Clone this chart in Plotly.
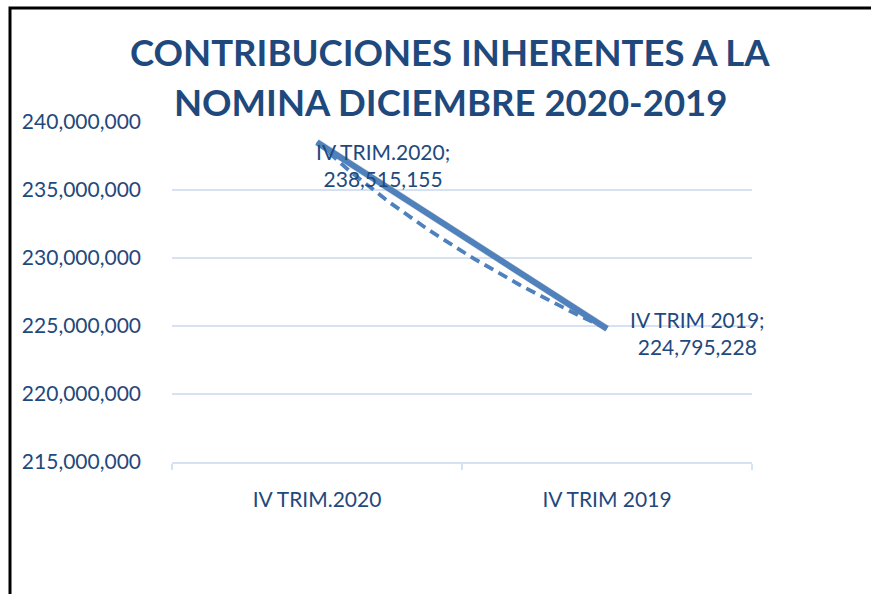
import numpy as np
import plotly.graph_objects as go

categories = ["IV TRIM.2020", "IV TRIM 2019"]
values = [238515155, 224795228]
label_prefixes = ["IV TRIM.2020;", "IV TRIM 2019;"]
y_ticks = [215000000, 220000000, 225000000, 230000000, 235000000, 240000000]
title_lines = ["CONTRIBUCIONES INHERENTES A LA", "NOMINA DICIEMBRE 2020-2019"]

TXT = "#1F497D"
LINE = "#4F81BD"
GRID = "#D6E2F2"
FONT = "Lato, 'Liberation Sans', sans-serif"

pos = list(range(len(categories)))

# logarithmic trendline (as Excel), fitted on x = 1..n
xn = np.arange(1, len(values) + 1)
b, a = np.polyfit(np.log(xn), np.array(values, dtype=float), 1)
t = np.linspace(1, len(values), 60)
trend_y = a + b * np.log(t)
trend_x = t - 1

W, H = 873, 594
L, R, T, B = 172, 118, 122, 128
pw, ph = W - L - R, H - T - B
ex, ey = 3 / pw, 4 / ph


def px(xp):
    return (xp - L) / pw


def py(yp):
    return (T + ph - yp) / ph


fig = go.Figure()
# base subplot holder (invisible) so the axes and grid are drawn
fig.add_trace(go.Scatter(x=pos, y=values, mode="lines", line=dict(width=0, color="rgba(0,0,0,0)"),
                         hoverinfo="skip", showlegend=False))
# shadow (offset subplot)
fig.add_trace(go.Scatter(x=pos, y=values, mode="lines", xaxis="x2", yaxis="y2",
                         line=dict(color="rgba(0,0,0,0.16)", width=7), hoverinfo="skip", showlegend=False))
fig.add_trace(go.Scatter(x=trend_x, y=trend_y, mode="lines", xaxis="x3", yaxis="y3",
                         line=dict(color=LINE, width=3.8, dash="10px,6px"), showlegend=False))
fig.add_trace(go.Scatter(x=pos, y=values, mode="lines", xaxis="x3", yaxis="y3",
                         line=dict(color=LINE, width=6), showlegend=False))

yr = [y_ticks[0], y_ticks[-1]]
xr = [-0.5, len(categories) - 0.5]

for i, (p, v) in enumerate(zip(pos, values)):
    fig.add_annotation(x=p, y=v, xref="x3", yref="y3",
                       text=f"{label_prefixes[i]}<br>{v:,}",
                       showarrow=False, xanchor="center", yanchor="middle",
                       xshift=[66, 90][i], yshift=[-23, -4][i],
                       font=dict(family=FONT, size=21, color=TXT))

for i, (line, ypix) in enumerate(zip(title_lines, [52, 102])):
    fig.add_annotation(x=px(450), y=py(ypix), xref="paper", yref="paper",
                       text=f"<b>{line}</b>", showarrow=False,
                       xanchor="center", yanchor="middle",
                       font=dict(family=FONT, size=36.5, color=TXT))

fig.update_layout(
    width=W, height=H,
    margin=dict(l=L, r=R, t=T, b=B, autoexpand=False),
    paper_bgcolor="white", plot_bgcolor="white",
    xaxis=dict(range=xr, domain=[0, 1 - ex], tickvals=pos, ticktext=categories,
               showgrid=False, zeroline=False, showline=True, linecolor=GRID, linewidth=2,
               ticks="", tickfont=dict(family=FONT, size=21, color=TXT),
               minor=dict(tickvals=[-0.5, 0.5, 1.5], ticks="outside", ticklen=6, tickcolor=GRID, tickwidth=2),
               ticklabelstandoff=18, automargin=False),
    yaxis=dict(range=yr, domain=[ey, 1], tickvals=y_ticks, tickformat=",d",
               showgrid=True, gridcolor=GRID, gridwidth=1.5, zeroline=False, showline=False,
               ticks="", tickfont=dict(family=FONT, size=21, color=TXT), ticklabelstandoff=30,
               automargin=False),
    xaxis2=dict(range=xr, domain=[ex, 1], overlaying="x", visible=False),
    yaxis2=dict(range=yr, domain=[0, 1 - ey], overlaying="y", visible=False),
    xaxis3=dict(range=xr, domain=[0, 1 - ex], overlaying="x", visible=False),
    yaxis3=dict(range=yr, domain=[ey, 1], overlaying="y", visible=False),
    shapes=[dict(type="path", xref="paper", yref="paper",
                 path=f"M {px(10)} {py(H)} L {px(10)} {py(8)} L {px(871)} {py(8)}",
                 line=dict(color="black", width=3))],
)

fig.write_html("out.html", config={"displayModeBar": False},
               post_script="document.body.style.margin='0px';document.body.style.overflow='hidden';")
